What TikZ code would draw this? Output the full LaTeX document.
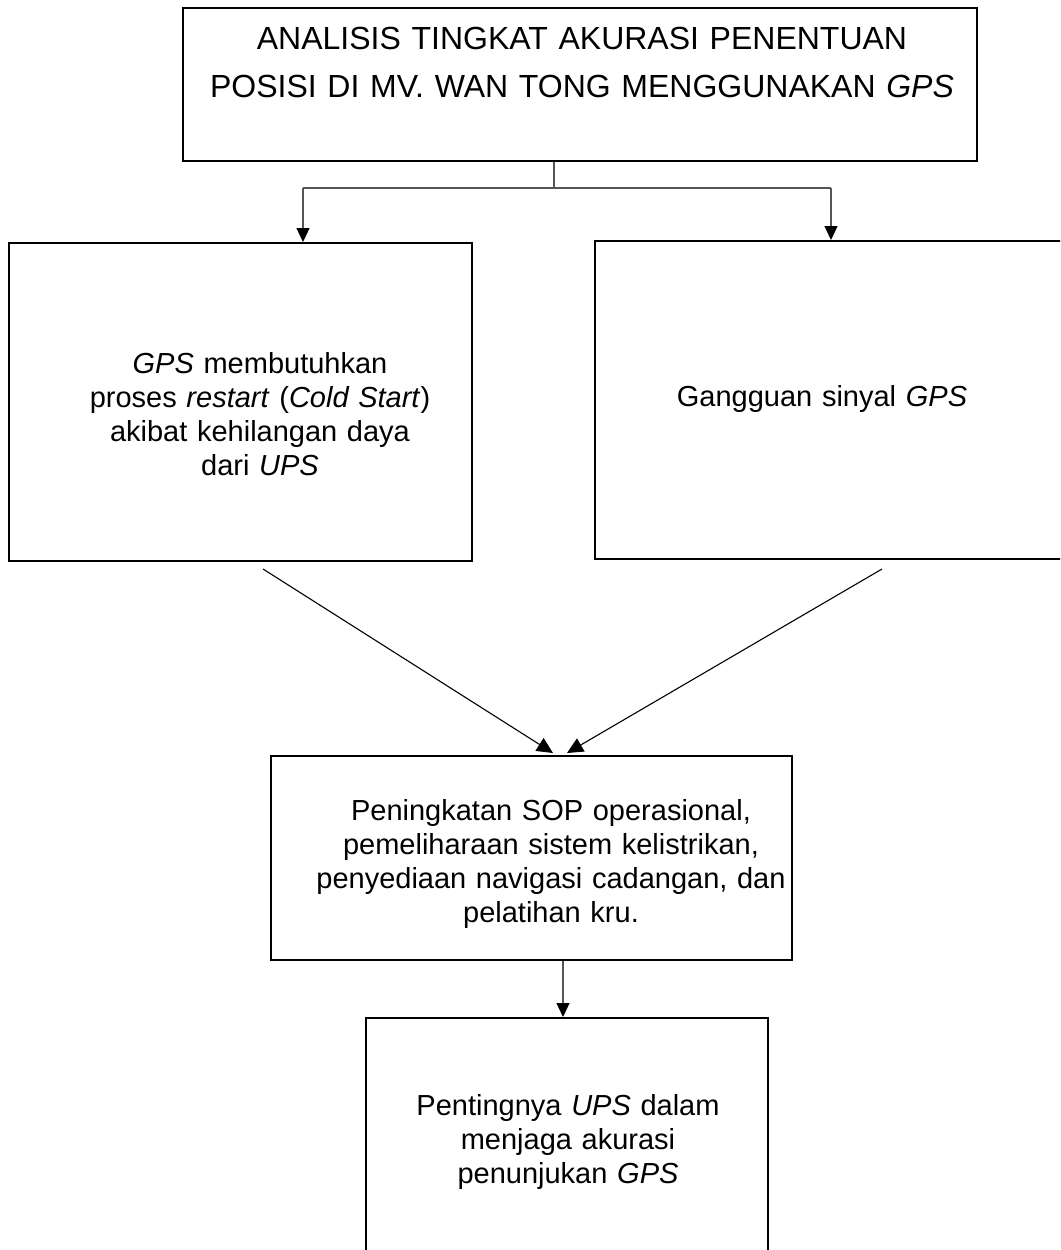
\documentclass[tikz,border=0pt]{standalone}
\usepackage{fontspec}
\setmainfont{Liberation Sans}
\usetikzlibrary{arrows.meta,calc}
\begin{document}
\begin{tikzpicture}[x=1pt,y=-1pt,
  boxst/.style={draw=black, line width=2pt, inner sep=0pt},
  txt/.style={anchor=base, inner sep=0pt, align=center, text width=700pt,
              font=\fontsize{29}{34}\selectfont},
  ttl/.style={anchor=base, inner sep=0pt, align=center, text width=900pt,
              font=\fontsize{32}{48}\selectfont},
  conn/.style={draw={rgb,255:red,85;green,85;blue,85}, line width=1.2pt},
  varrow/.style={conn, -{Triangle[length=14pt,width=13pt,color=black,fill=black]}},
  darrow/.style={draw=black, line width=1.1pt, -{Triangle[length=16pt,width=15pt,color=black,fill=black]}}]
\path[use as bounding box, clip] (0,0) rectangle (1060,1250);

% boxes
\node[boxst, minimum width=794pt, minimum height=153pt] (b0) at (580,84.5) {};
\node[boxst, minimum width=463pt, minimum height=318pt] (b1) at (240.5,402) {};
\node[boxst, minimum width=480pt, minimum height=318pt] (b2) at (835,400) {};
\node[boxst, minimum width=521pt, minimum height=204pt] (b3) at (531.5,858) {};
\node[boxst, minimum width=402pt, minimum height=252pt] (b4) at (567,1144) {};

% texts
\node[ttl] (t0) at (582,49) {ANALISIS TINGKAT AKURASI PENENTUAN\\POSISI DI MV. WAN TONG MENGGUNAKAN \textit{GPS}};
\node[txt] (t1) at (260,373) {\textit{GPS} membutuhkan\\proses \textit{restart} (\textit{Cold Start})\\akibat kehilangan daya\\dari \textit{UPS}};
\node[txt] (t2) at (822,406) {Gangguan sinyal \textit{GPS}};
\node[txt] (t3) at (551,820) {Peningkatan SOP operasional,\\pemeliharaan sistem kelistrikan,\\penyediaan navigasi cadangan, dan\\pelatihan kru.};
\node[txt] (t4) at (568,1115) {Pentingnya \textit{UPS} dalam\\menjaga akurasi\\penunjukan \textit{GPS}};

% connectors
\coordinate (j) at (554,188);
\coordinate (jl) at (303,188);
\coordinate (jr) at (831,188);
\draw[conn] (b0.south -| j) -- (j);
\draw[conn] (jl) -- (jr);
\draw[varrow] (jl) -- (jl |- b1.north);
\draw[varrow] (jr) -- (jr |- b2.north);

\coordinate (d1) at (263,569);
\coordinate (d2) at (882,569);
\coordinate (e1) at (553,753);
\coordinate (e2) at (567,753);
\draw[darrow] (d1) -- (e1);
\draw[darrow] (d2) -- (e2);

\coordinate (k) at (563,0);
\draw[varrow] (b3.south -| k) -- (b4.north -| k);
\end{tikzpicture}
\end{document}
